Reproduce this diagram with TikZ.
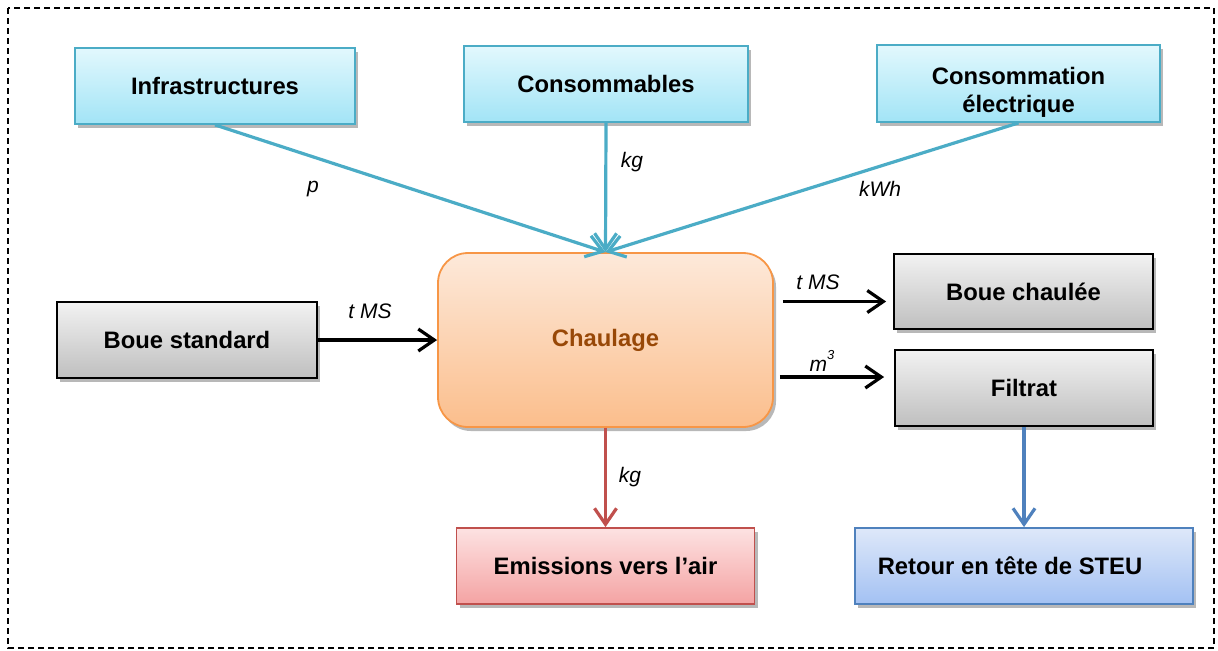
\documentclass[tikz,border=0pt]{standalone}
\usepackage{fontspec}
\setmainfont{Liberation Sans}
\usetikzlibrary{arrows.meta,shadows,calc}

\definecolor{cyanline}{HTML}{4BACC6}
\definecolor{cyantop}{HTML}{E2F8FD}
\definecolor{cyanbot}{HTML}{A2E4F6}
\definecolor{graytop}{HTML}{F2F2F2}
\definecolor{graybot}{HTML}{BFBFBF}
\definecolor{orangeline}{HTML}{F79646}
\definecolor{orangetop}{HTML}{FDE9DA}
\definecolor{orangebot}{HTML}{FBBE8C}
\definecolor{chaultext}{HTML}{984807}
\definecolor{redline}{HTML}{C0504D}
\definecolor{redtop}{HTML}{FDE2E2}
\definecolor{redbot}{HTML}{F4A3A3}
\definecolor{blueline}{HTML}{4F81BD}
\definecolor{bluetop}{HTML}{DEE8F9}
\definecolor{bluebot}{HTML}{A3C1F3}

\tikzset{
  box/.style={rectangle, inner sep=2pt, align=center,
    font=\bfseries\fontsize{11.9}{14}\selectfont,
    drop shadow={shadow xshift=1.5pt, shadow yshift=-2pt, fill=black, opacity=0.28}},
  cyanbox/.style={box, draw=cyanline, line width=0.9pt, top color=cyantop, bottom color=cyanbot},
  graybox/.style={box, draw=black, line width=0.9pt, top color=graytop, bottom color=graybot},
  redbox/.style={box, draw=redline, line width=0.9pt, top color=redtop, bottom color=redbot},
  bluebox/.style={box, draw=blueline, line width=0.9pt, top color=bluetop, bottom color=bluebot},
  procbox/.style={box, rounded corners=15pt, draw=orangeline, line width=0.9pt,
    top color=orangetop, bottom color=orangebot, text=chaultext},
  flow/.style={line width=1.6pt, -{Straight Barb[length=8pt,width=11pt,line width=1.6pt]}},
  unitlabel/.style={font=\itshape\fontsize{10.5}{12}\selectfont, inner sep=0pt},
}

\begin{document}
\begin{tikzpicture}[x=0.5pt, y=-0.5pt]
  \useasboundingbox (0,0) rectangle (1218,650);
  % outer frame
  \draw[dashed, dash pattern=on 3pt off 2pt, line width=0.55pt] (8,8) rectangle (1214,648);

  % inputs
  \node[cyanbox, minimum width=140pt, minimum height=38pt] (infra) at (215,86) {Infrastructures};
  \node[cyanbox, minimum width=142pt, minimum height=38pt] (cons) at (606,84) {Consommables};
  \node[cyanbox, minimum width=141.5pt, minimum height=38.5pt] (elec) at (1018.5,83.5)
    {\rule{0pt}{17.5pt}Consommation\\électrique};

  % process
  \node[procbox, minimum width=167.5pt, minimum height=87pt] (chaul) at (605.5,340) {Chaulage};

  % sludge in / out
  \node[graybox, minimum width=130pt, minimum height=38pt] (bstd) at (187,340) {Boue standard};
  \node[graybox, minimum width=129.5pt, minimum height=37.5pt] (bchaul) at (1023.5,291.5) {Boue chaulée};
  \node[graybox, minimum width=129pt, minimum height=38pt] (filtrat) at (1024,388) {Filtrat};

  % outputs
  \node[redbox, minimum width=149pt, minimum height=38pt] (emis) at (605.5,566) {Emissions vers l’air};
  \node[bluebox, minimum width=169pt, minimum height=38pt] (retour) at (1024,566) {Retour en tête de STEU\hspace{14pt}};

  % flows into the process
  \draw[flow, cyanline] (infra.south) -- (chaul.north);
  \draw[flow, cyanline] (cons.south) -- (chaul.north);
  \draw[flow, cyanline] (elec.south) -- (chaul.north);
  \draw[flow, black] (bstd.east) -- (chaul.west);

  % flows out of the process
  \draw[flow, black] ($(chaul.east |- bchaul.west)+(4.5pt,-5pt)$) -- ($(bchaul.west)+(-3.5pt,-5pt)$);
  \draw[flow, black] ($(chaul.east |- filtrat.west)+(3pt,5.5pt)$) -- ($(filtrat.west)+(-5pt,5.5pt)$);
  \draw[flow, redline] (chaul.south) -- (emis.north);
  \draw[flow, blueline] (filtrat.south) -- (retour.north);

  % units
  \node[unitlabel] (lp) at (313,189) {p};
  \node[unitlabel] (lkg) at (632,162) {kg};
  \node[unitlabel] (lkwh) at (880,189) {kWh};
  \node[unitlabel] (ltms1) at (370,311) {t MS};
  \node[unitlabel] (ltms2) at (818,282) {t MS};
  \node[unitlabel] (lm3) at (822,361) {m\raisebox{1.05ex}{\fontsize{6.5}{7}\selectfont 3}};
  \node[unitlabel] (lkg2) at (630,477) {kg};
\end{tikzpicture}
\end{document}
